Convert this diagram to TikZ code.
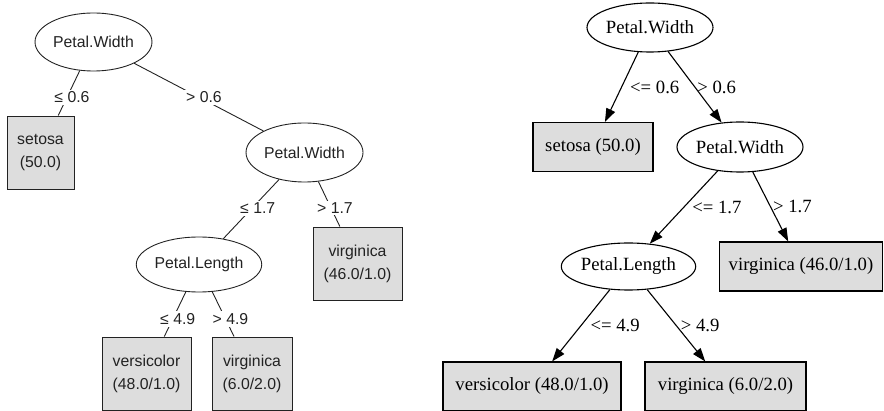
\documentclass[tikz,border=0pt]{standalone}
\usepackage{fontspec}
\newfontfamily\wekafont{Liberation Sans}
\newfontfamily\dotfont{Liberation Serif}
\usetikzlibrary{shapes.geometric,arrows.meta,calc}
\definecolor{leafgray}{HTML}{DDDDDD}
\definecolor{wekaline}{HTML}{222222}

\begin{document}
\begin{tikzpicture}[x=1pt,y=-1pt,
  wsplit/.style={ellipse,draw=wekaline,line width=0.9pt,inner sep=0pt,text=wekaline,
    font=\wekafont\fontsize{15.8}{23}\selectfont},
  wleaf/.style={rectangle,draw=wekaline,fill=leafgray,line width=0.9pt,inner sep=0pt,
    minimum height=73pt,align=center,text=wekaline,font=\wekafont\fontsize{15.8}{23}\selectfont},
  wlabel/.style={fill=white,inner sep=2pt,text=wekaline,font=\wekafont\fontsize{15.8}{19}\selectfont},
  gsplit/.style={ellipse,draw,line width=1.1pt,inner sep=0pt,font=\dotfont\fontsize{18.7}{22}\selectfont},
  gleaf/.style={rectangle,draw,fill=leafgray,line width=1.1pt,inner sep=0pt,
    minimum height=49pt,font=\dotfont\fontsize{18.7}{22}\selectfont},
  glabel/.style={right,inner sep=2pt,font=\dotfont\fontsize{18.7}{22}\selectfont},
  garrow/.style={line width=1.1pt,-{Triangle[length=13.4pt,width=9.4pt]}}]
\useasboundingbox (0,0) rectangle (884,411);

% left tree: nodes
\node [wsplit,minimum width=117pt,minimum height=58pt] (wroot) at (93.5,42) {Petal.Width};
\node [wleaf,minimum width=67pt] (wsetosa) at (40.5,152.5) {setosa\\(50.0)};
\node [wsplit,minimum width=117pt,minimum height=59pt] (wwidth) at (304.5,152.5) {Petal.Width};
\node [wsplit,minimum width=116pt,minimum height=55pt] (wlength) at (199,264.5) {Petal.Length};
\node [wleaf,minimum width=89pt] (wvirgA) at (357.5,263.5) {virginica\\(46.0/1.0)};
\node [wleaf,minimum width=89pt] (wversi) at (146.5,373.5) {versicolor\\(48.0/1.0)};
\node [wleaf,minimum width=80pt] (wvirgB) at (252,373.5) {virginica\\(6.0/2.0)};

% left tree: lines, then labels over them
\draw [wekaline,line width=0.9pt] (wroot) -- (wsetosa);
\draw [wekaline,line width=0.9pt] (wroot) -- (wwidth);
\draw [wekaline,line width=0.9pt] (wwidth) -- (wlength);
\draw [wekaline,line width=0.9pt] (wwidth) -- (wvirgA);
\draw [wekaline,line width=0.9pt] (wlength) -- (wversi);
\draw [wekaline,line width=0.9pt] (wlength) -- (wvirgB);
\node [wlabel] (wl1) at ($(wroot)!.5!(wsetosa)+(5,0)$) {≤ 0.6};
\node [wlabel] (wl2) at ($(wroot)!.5!(wwidth)+(5,0)$) {> 0.6};
\node [wlabel] (wl3) at ($(wwidth)!.5!(wlength)+(6,0)$) {≤ 1.7};
\node [wlabel] (wl4) at ($(wwidth)!.5!(wvirgA)+(4,0)$) {> 1.7};
\node [wlabel] (wl5) at ($(wlength)!.5!(wversi)+(5,0)$) {≤ 4.9};
\node [wlabel] (wl6) at ($(wlength)!.5!(wvirgB)+(5,0)$) {> 4.9};

% right tree: nodes
\node [gsplit,minimum width=126pt,minimum height=49pt] (groot) at (650,27.5) {Petal.Width};
\node [gleaf,minimum width=120pt] (gsetosa) at (593,147) {setosa (50.0)};
\node [gsplit,minimum width=126pt,minimum height=50pt] (gwidth) at (740,147) {Petal.Width};
\node [gsplit,minimum width=133pt,minimum height=47pt] (glength) at (628.5,266.5) {Petal.Length};
\node [gleaf,minimum width=163pt] (gvirgA) at (801,266.5) {virginica (46.0/1.0)};
\node [gleaf,minimum width=178pt] (gversi) at (532,386.5) {versicolor (48.0/1.0)};
\node [gleaf,minimum width=161pt] (gvirgB) at (725.5,386.5) {virginica (6.0/2.0)};

% right tree: arrows with labels
\draw [garrow] (groot) -- node[glabel,xshift=6pt] {<= 0.6} (gsetosa);
\draw [garrow] (groot) -- node[glabel] {> 0.6} (gwidth);
\draw [garrow] (gwidth) -- node[glabel,xshift=6pt] {<= 1.7} (glength);
\draw [garrow] (gwidth) -- node[glabel] {> 1.7} (gvirgA);
\draw [garrow] (glength) -- node[glabel,xshift=7pt] {<= 4.9} (gversi);
\draw [garrow] (glength) -- node[glabel,xshift=2pt] {> 4.9} (gvirgB);
\end{tikzpicture}
\end{document}
